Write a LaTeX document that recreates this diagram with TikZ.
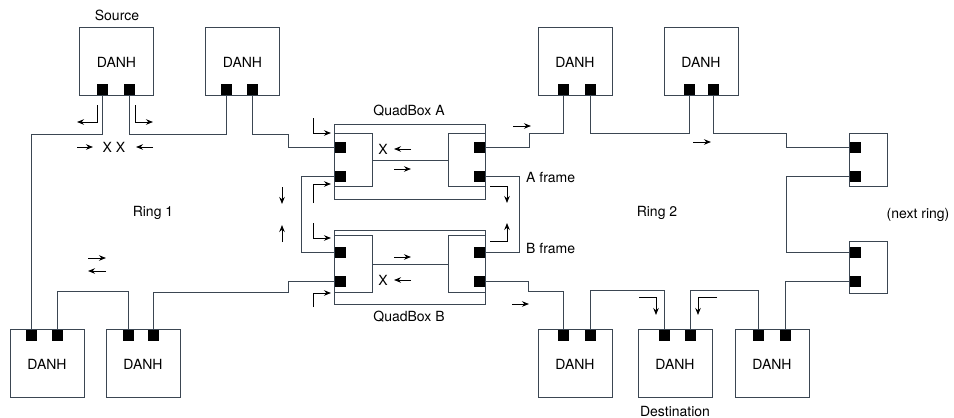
\documentclass[tikz,border=0pt]{standalone}
\usepackage{fontspec}
\setmainfont{TeX Gyre Heros}
\usetikzlibrary{arrows.meta,calc}
\definecolor{wire}{HTML}{3B4652}
\begin{document}
\begin{tikzpicture}[x=1pt,y=-1pt,
  font=\fontsize{14}{16}\selectfont,
  danh/.style={draw=wire,line width=1pt,minimum width=74pt,minimum height=68pt,inner sep=0pt},
  box/.style={draw=wire,line width=1pt,inner sep=0pt,anchor=north west},
  port/.style={fill=black,minimum size=11pt,inner sep=0pt},
  ring/.style={draw=wire,line width=1pt},
  flow/.style={draw=black,line width=0.9pt,-{Stealth[length=7pt,width=5.5pt]}},
  lbl/.style={inner sep=0pt}
]
\useasboundingbox (0,0) rectangle (954,418);

% ---------- DANH boxes ----------
\node[danh] (S)  at (116.5,61) {};
\node[danh] (T2) at (242.5,61) {};
\node[danh] (T3) at (575,61) {};
\node[danh] (T4) at (701,61) {};
\node[danh] (B1) at (47,363.5) {};
\node[danh] (B2) at (143,363.5) {};
\node[danh] (B3) at (575,363.5) {};
\node[danh] (D)  at (675,363.5) {};
\node[danh] (B5) at (772,363.5) {};
\foreach \n in {S,T2,T3,T4}{\node[lbl] (\n t) at ($(\n)+(0,1)$) {DANH};}
\foreach \n in {B1,B2,B3,D,B5}{\node[lbl] (\n t) at ($(\n)+(0,1)$) {DANH};}

% ports top boxes
\node[port] (Sp1)  at (102.5,89.5) {};
\node[port] (Sp2)  at (129.5,89.5) {};
\node[port] (T2p1) at (226.5,89.5) {};
\node[port] (T2p2) at (252.5,89.5) {};
\node[port] (T3p1) at (563.5,89.5) {};
\node[port] (T3p2) at (590.5,89.5) {};
\node[port] (T4p1) at (689.5,89.5) {};
\node[port] (T4p2) at (713.5,89.5) {};
% ports bottom boxes
\node[port] (B1p1) at (31.5,335.5) {};
\node[port] (B1p2) at (57.5,335.5) {};
\node[port] (B2p1) at (128.5,335.5) {};
\node[port] (B2p2) at (153.5,335.5) {};
\node[port] (B3p1) at (563.5,335.5) {};
\node[port] (B3p2) at (590.5,335.5) {};
\node[port] (Dp1)  at (664.5,335.5) {};
\node[port] (Dp2)  at (690.5,335.5) {};
\node[port] (B5p1) at (758.5,335.5) {};
\node[port] (B5p2) at (785.5,335.5) {};

% ---------- QuadBoxes ----------
\node[box,minimum width=151pt,minimum height=75pt] (QA) at (334,124) {};
\node[box,minimum width=38pt,minimum height=53pt] (QAil) at (334,133) {};
\node[box,minimum width=37pt,minimum height=53pt] (QAir) at (448,133) {};
\node[port] (QAl1) at (340,147.5) {};
\node[port] (QAl2) at (340,176.5) {};
\node[port] (QAr1) at (479,147.5) {};
\node[port] (QAr2) at (479,176.5) {};

\node[box,minimum width=151pt,minimum height=74pt] (QB) at (334,230) {};
\node[box,minimum width=38pt,minimum height=57pt] (QBil) at (334,235) {};
\node[box,minimum width=37pt,minimum height=57pt] (QBir) at (448,235) {};
\node[port] (QBl1) at (340,252.5) {};
\node[port] (QBl2) at (340,281) {};
\node[port] (QBr1) at (479,252.5) {};
\node[port] (QBr2) at (479,281) {};

% ---------- next ring boxes ----------
\node[box,minimum width=38pt,minimum height=53pt] (NR1) at (849,133) {};
\node[box,minimum width=38pt,minimum height=52pt] (NR2) at (849,241) {};
\node[port] (N1p1) at (855.5,147) {};
\node[port] (N1p2) at (855.5,176) {};
\node[port] (N2p1) at (855.5,252) {};
\node[port] (N2p2) at (855.5,281) {};

% ---------- ring wiring ----------
\draw[ring] (Sp1.south) -- ++(0,39) -| (B1p1.north);
\draw[ring] (Sp2.south) -- ++(0,39) -| (T2p1.south);
\draw[ring] (T2p2.south) -- ++(0,39) -| (288,147.5) -- (QAl1.west);
\draw[ring] (QAl2.west) -- ++(-33,0) |- (QBl1.west);
\draw[ring] (QBl2.west) -| (288,292) -| (B2p2.north);
\draw[ring] (B2p1.north) -- ++(0,-38) -| (B1p2.north);
\draw[ring] (QAil.east) -- (QAir.west);
\draw[ring] (QBil.east) -- (QBir.west);
\draw[ring] (QAr1.east) -| (529,133) -| (T3p1.south);
\draw[ring] (QAr2.east) -- (519.5,176.5) |- (QBr1.east);
\draw[ring] (QBr2.east) -| (528,291) -| (B3p1.north);
\draw[ring] (T3p2.south) -- ++(0,38) -| (T4p1.south);
\draw[ring] (T4p2.south) -- ++(0,38) -| (786,147) -- (N1p1.west);
\draw[ring] (N1p2.west) -- (786,176) |- (N2p1.west);
\draw[ring] (N2p2.west) -| (B5p2.north);
\draw[ring] (B5p1.north) -- ++(0,-39) -| (Dp2.north);
\draw[ring] (B3p2.north) -- ++(0,-39) -| (Dp1.north);

% ---------- flow arrows ----------
\draw[flow] (97,105) -- (97,122) -- (77,122);
\draw[flow] (135,105) -- (135,122) -- (153,122);
\draw[flow] (77,147) -- (93,147);
\draw[flow] (153,147) -- (136,147);
\node[lbl] (xx) at (114,147.5) {X X};
\draw[flow] (313,118) -- (313,133) -- (331,133);
\draw[flow] (313,203) -- (313,184) -- (331,184);
\draw[flow] (282,187) -- (282,204);
\draw[flow] (282,242) -- (282,225);
\draw[flow] (313,223) -- (313,238) -- (331,238);
\draw[flow] (313,307) -- (313,293) -- (331,293);
\node[lbl] (xa) at (383,149.5) {X};
\draw[flow] (411,149) -- (394,149);
\draw[flow] (394,169) -- (411,169);
\draw[flow] (394,257) -- (411,257);
\node[lbl] (xb) at (383,280.5) {X};
\draw[flow] (411,280) -- (394,280);
\draw[flow] (490,186) -- (507,186) -- (507,203);
\draw[flow] (490,241) -- (507,241) -- (507,223);
\draw[flow] (513,126) -- (531,126);
\draw[flow] (693,142) -- (711,142);
\draw[flow] (512,304) -- (529,304);
\draw[flow] (639,297) -- (656,297) -- (656,315);
\draw[flow] (717,297) -- (698,297) -- (698,315);
\draw[flow] (88,258) -- (106,258);
\draw[flow] (106,271) -- (88,271);

% ---------- labels ----------
\node[lbl] (src) at (117,15) {Source};
\node[lbl] (qal) at (409,111) {QuadBox A};
\node[lbl] (qbl) at (409,317) {QuadBox B};
\node[lbl,anchor=west] (af) at (526,177) {A frame};
\node[lbl,anchor=west] (bf) at (526,248) {B frame};
\node[lbl] (r1) at (153,213) {Ring 1};
\node[lbl] (r2) at (657,213) {Ring 2};
\node[lbl] (nr) at (918,215) {(next ring)};
\node[lbl] (dst) at (675,411) {Destination};
\end{tikzpicture}
\end{document}
